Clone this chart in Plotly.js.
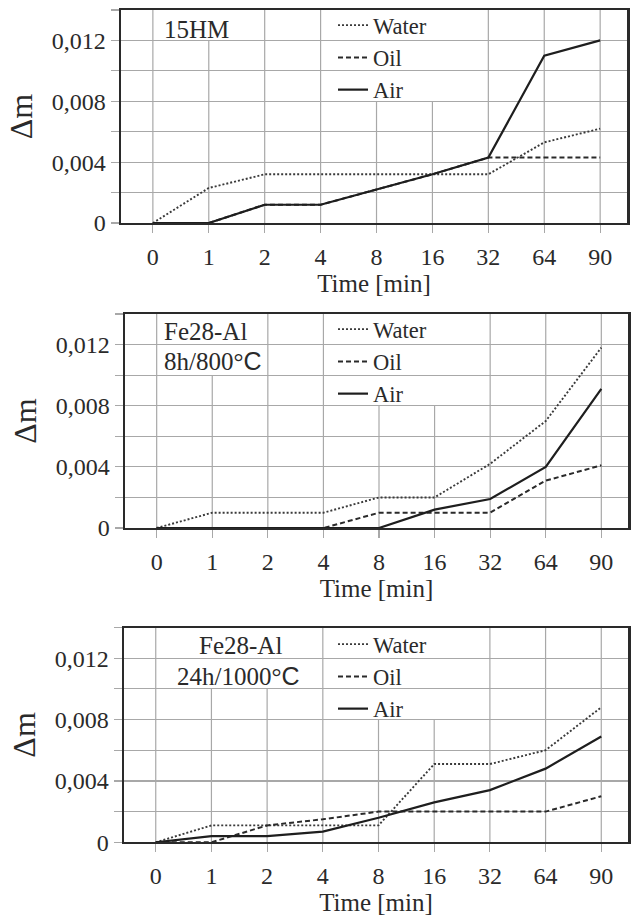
<!DOCTYPE html>
<html><head><meta charset="utf-8">
<script src="https://cdn.plot.ly/plotly-3.0.1.min.js"></script>
<style>html,body{margin:0;padding:0;background:#fff}</style>
</head><body><div id="chart" style="width:635px;height:917px"></div>
<script>
// ---- data ----
const timeLabels = ['0','1','2','4','8','16','32','64','90'];
const seriesNames = ['Water','Oil','Air'];
const yTickVals = [0,0.002,0.004,0.006,0.008,0.010,0.012,0.014];
const yTickText = ['0','','0,004','','0,008','','0,012',''];

// Panel 1: 15HM
const p1Water = [0, 0.0023, 0.0032, 0.0032, 0.0032, 0.0032, 0.0032, 0.0053, 0.0062];
const p1Oil   = [0, 0, 0.0012, 0.0012, 0.0022, 0.0032, 0.0043, 0.0043, 0.0043];
const p1Air   = [0, 0, 0.0012, 0.0012, 0.0022, 0.0032, 0.0043, 0.011, 0.012];
// Panel 2: Fe28-Al 8h/800°C
const p2Water = [0, 0.001, 0.001, 0.001, 0.002, 0.002, 0.0042, 0.007, 0.0118];
const p2Oil   = [0, 0, 0, 0, 0.001, 0.001, 0.001, 0.0031, 0.0041];
const p2Air   = [0, 0, 0, 0, 0, 0.0012, 0.0019, 0.004, 0.0091];
// Panel 3: Fe28-Al 24h/1000°C
const p3Water = [0, 0.0011, 0.0011, 0.0011, 0.0011, 0.0051, 0.0051, 0.006, 0.0088];
const p3Oil   = [0, 0, 0.0011, 0.0015, 0.002, 0.002, 0.002, 0.002, 0.003];
const p3Air   = [0, 0.0004, 0.0004, 0.0007, 0.0016, 0.0026, 0.0034, 0.0048, 0.0069];

const panels = [
  {series:[p1Water,p1Oil,p1Air], dom:{x:[121,627], y:[10,223]}, legXY:[333,4],
   labels:[{t:'15HM', x:162, y:29, anchor:'left'}],
   gridTop:[0.014,0.012,0.014,0.014,0.008,0.008,0.014,0.014,0.014]},
  {series:[p2Water,p2Oil,p2Air], dom:{x:[125,628], y:[314,528]}, legXY:[333,308],
   labels:[{t:'Fe28-Al', x:162, y:331, anchor:'left'},
           {t:'8h/800°<span style="font-family:\'Liberation Sans\'">C</span>', x:162, y:361, anchor:'left'}],
   gridTop:[0.014,0.010,0.014,0.014,0.008,0.008,0.014,0.014,0.014]},
  {series:[p3Water,p3Oil,p3Air], dom:{x:[124,628], y:[627.5,842.3]}, legXY:[333,623],
   labels:[{t:'Fe28-Al', x:240, y:645, anchor:'center'},
           {t:'24h/1000°<span style="font-family:\'Liberation Sans\'">C</span>', x:238, y:676, anchor:'center'}],
   gridTop:[0.014,0.010,0.010,0.014,0.008,0.008,0.014,0.014,0.014]}
];

const W = 635, H = 917;
const serif = '"Liberation Serif", "Times New Roman", serif';
const ink = '#2a2a2a';
const gridCol = '#a8a8a8';
const styles = [
  {dash:'2px,2px', width:1.9, color:'#3a3a3a'},
  {dash:'5px,3px', width:2, color:'#2a2a2a'},
  {dash:'solid', width:2.2, color:'#1e1e1e'}
];

const traces = [];
const layout = {
  width: W, height: H, margin:{l:0,r:0,t:0,b:0},
  paper_bgcolor:'#fff', plot_bgcolor:'#fff',
  font:{family:serif, color:ink, size:24},
  showlegend:true, annotations:[], shapes:[]
};

panels.forEach((p, k) => {
  const sfx = k === 0 ? '' : String(k+1);
  const xa = 'x' + sfx, ya = 'y' + sfx, lg = 'legend' + sfx;
  p.series.forEach((vals, j) => {
    traces.push({
      x: timeLabels, y: vals, xaxis: xa, yaxis: ya, legend: lg,
      name: seriesNames[j], type:'scatter', mode:'lines',
      line:{dash:styles[j].dash, width:styles[j].width, color:styles[j].color},
      hoverinfo:'skip'
    });
  });
  layout['xaxis' + sfx] = {
    domain:[p.dom.x[0]/W, p.dom.x[1]/W], anchor: ya,
    type:'category', categoryorder:'array', categoryarray: timeLabels,
    range:[-0.57, 8.48], showgrid:false, zeroline:false,
    showline:true, mirror:true, linecolor:ink, linewidth:2,
    ticks:'outside', ticklen:8, tickcolor:gridCol, tickwidth:1.2,
    ticklabelstandoff:3,
    tickfont:{family:serif, size:24, color:ink},
    title:{text:'Time [min]', font:{family:serif, size:25, color:ink}, standoff:0},
    fixedrange:true
  };
  layout['yaxis' + sfx] = {
    domain:[1 - p.dom.y[1]/H, 1 - p.dom.y[0]/H], anchor: xa,
    range:[0, 0.014], tickvals:yTickVals, ticktext:yTickText,
    showgrid:true, gridcolor:gridCol, gridwidth:1.2, zeroline:false,
    showline:true, mirror:true, linecolor:ink, linewidth:2.5,
    ticks:'outside', ticklen:8, tickcolor:gridCol, tickwidth:1.2,
    tickfont:{family:serif, size:24, color:ink},
    title:{text:'Δm', font:{family:serif, size:32, color:ink}, standoff:10},
    fixedrange:true
  };
  layout[lg] = {
    x: p.legXY[0]/W, y: 1 - p.legXY[1]/H, xanchor:'left', yanchor:'top',
    bgcolor:'rgba(0,0,0,0)', borderwidth:0,
    font:{family:serif, size:22.5, color:ink}, tracegroupgap:0
  };
  // vertical grid lines (interrupted behind the panel label and legend, as in the original)
  timeLabels.forEach((c, i) => {
    layout.shapes.push({type:'line', xref:xa, yref:ya, x0:i, x1:i, y0:0, y1:p.gridTop[i],
      line:{color:gridCol, width:1.2}, layer:'below'});
  });
  p.labels.forEach(l => {
    layout.annotations.push({text:l.t, xref:'paper', yref:'paper', x:l.x/W, y:1 - l.y/H,
      xanchor:l.anchor, yanchor:'middle', showarrow:false,
      font:{family:serif, size:25, color:ink}});
  });
});

Plotly.newPlot('chart', traces, layout, {displayModeBar:false, staticPlot:true});
</script>
</body></html>
